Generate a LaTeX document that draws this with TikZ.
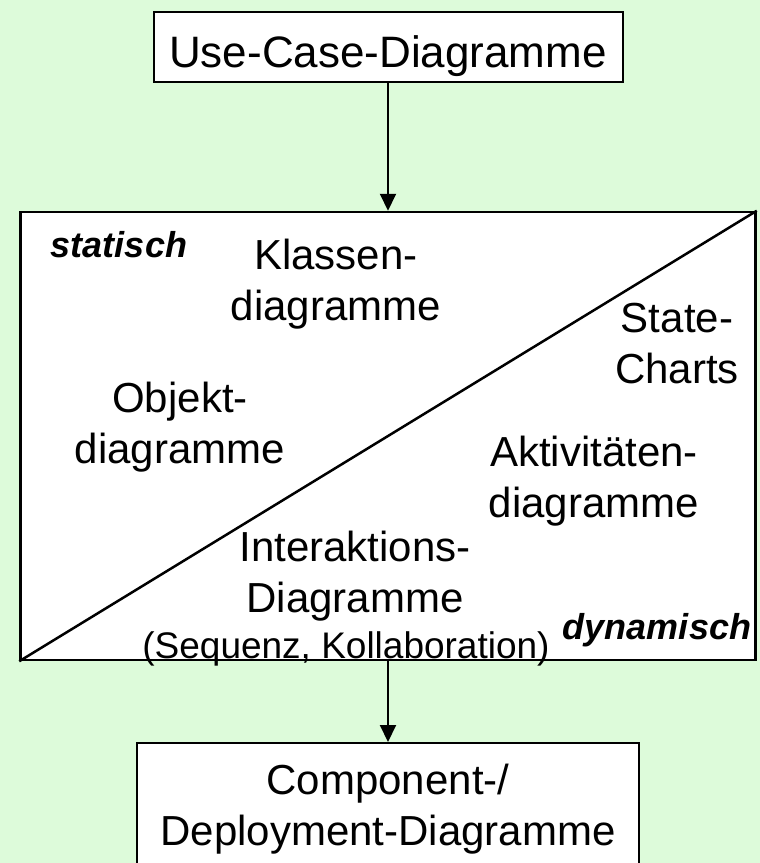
\documentclass[tikz,border=0pt]{standalone}
\usepackage{fontspec}
\setmainfont{Liberation Sans}
\usetikzlibrary{arrows.meta}
\definecolor{bggreen}{RGB}{221,251,218}
\newcommand{\bigtxt}{\fontsize{42}{51}\selectfont}
\newcommand{\midtxt}{\fontsize{37}{44}\selectfont}
\newcommand{\kindtxt}{\fontsize{36}{43}\selectfont\bfseries\itshape}

\begin{document}
\begin{tikzpicture}[x=1pt, y=-1pt,
    box/.style={draw, fill=white, line width=2pt, inner sep=0pt, align=center, font=\bigtxt},
    txt/.style={anchor=base, inner sep=0pt, align=center, font=\bigtxt},
    kind/.style={anchor=base, inner sep=0pt, font=\kindtxt},
    flow/.style={line width=2pt, -{Triangle[length=17pt, width=16pt]}}]
    \fill[bggreen] (0,0) rectangle (760,863);
    \useasboundingbox (0,0) rectangle (760,863);
    \clip (0,0) rectangle (760,863);

    \node[box, minimum width=469pt, minimum height=70pt, font=\fontsize{44}{53}\selectfont,
          text height=40pt, text depth=0pt] (usecase) at (388,47) {Use-Case-Diagramme};
    \node[box, minimum width=735pt, minimum height=448pt, line width=2.5pt] (views) at (388,436) {};
    \draw[line width=2.5pt] (views.south west) -- (views.north east);
    \node[box, minimum width=502pt, minimum height=133pt] (deploy) at (388,809.5) {Component-/\\Deployment-Diagramme};

    \draw[flow] (usecase) -- (views);
    \draw[flow] (views) -- (deploy);

    % static / dynamic halves
    \node[kind] (static) at (119,257) {statisch};
    \node[kind] (dynamic) at (657,639) {dynamisch};

    \node[txt] (klassen) at (336,320) {Klassen-\\diagramme};
    \node[txt] (state) at (677,383) {State-\\Charts};
    \node[txt] (objekt) at (180,463) {Objekt-\\diagramme};
    \node[txt] (aktiv) at (594,517) {Aktivitäten-\\diagramme};
    \node[txt] (interakt) at (355,612) {Interaktions-\\Diagramme};
    \node[txt, font=\midtxt] (seq) at (346,658) {(Sequenz, Kollaboration)};
\end{tikzpicture}
\end{document}
